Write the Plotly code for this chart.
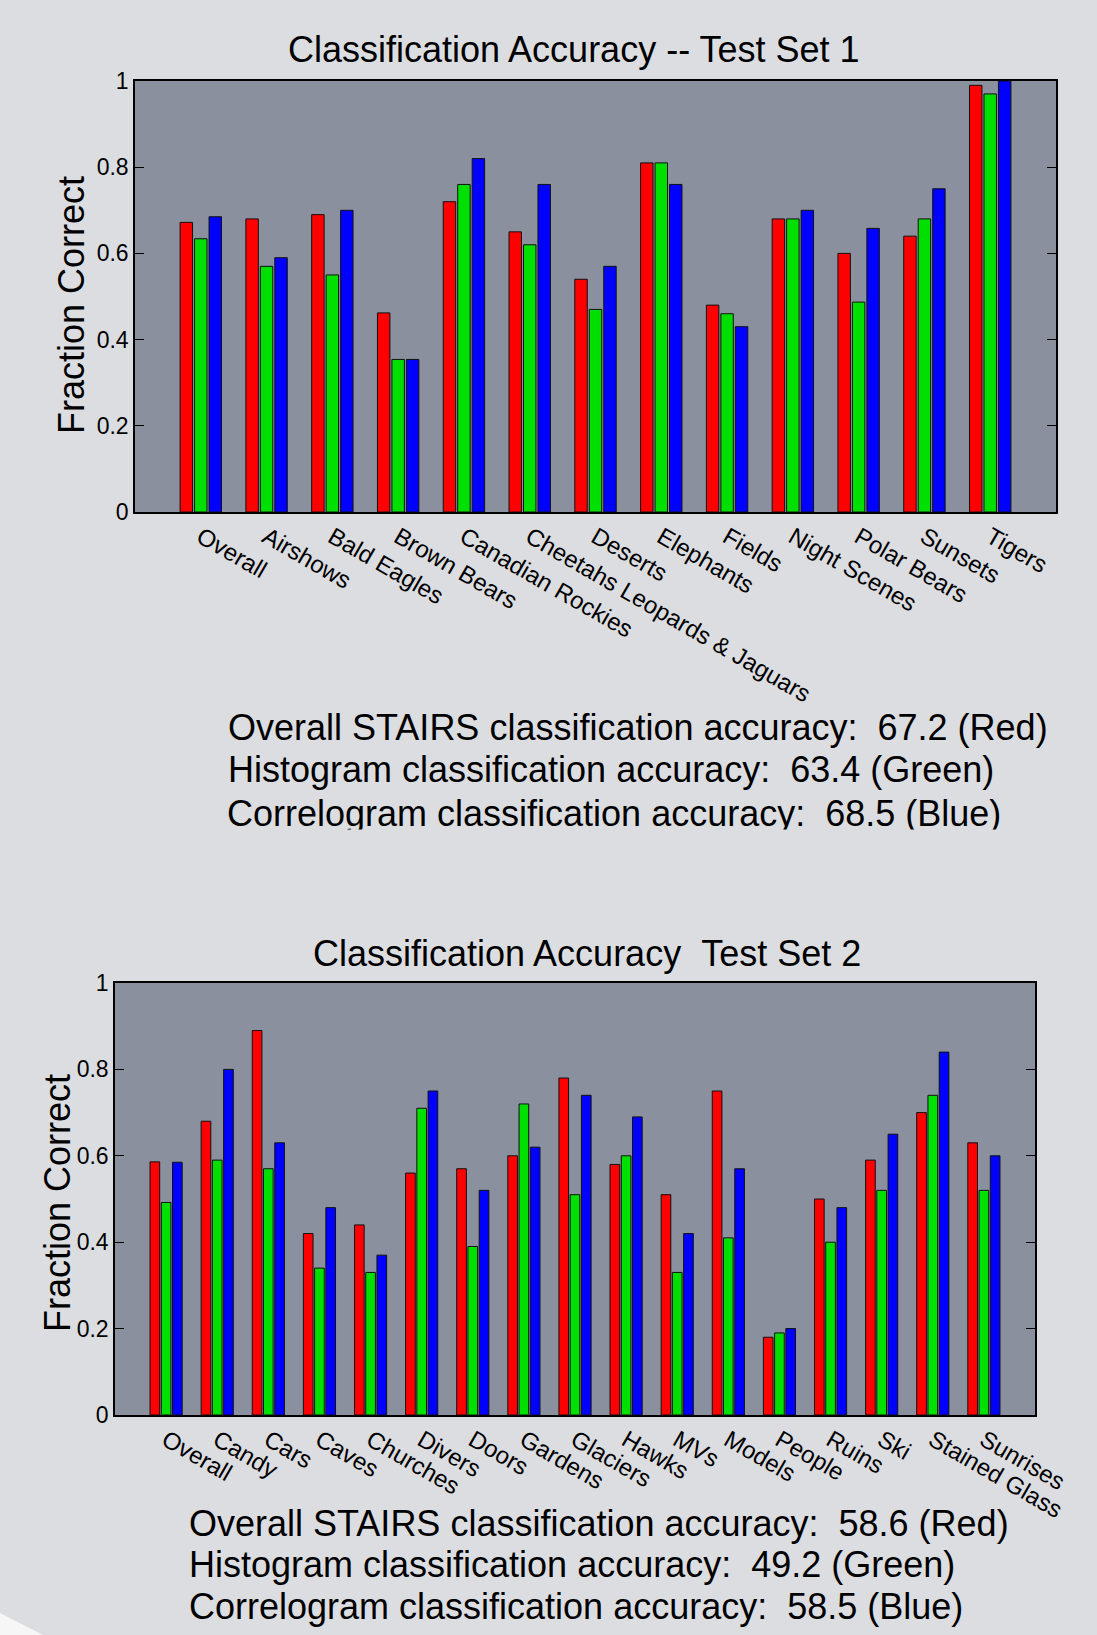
import plotly.graph_objects as go

# ---------------- data ----------------
cats1 = ["Overall", "Airshows", "Bald Eagles", "Brown Bears", "Canadian Rockies",
         "Cheetahs Leopards & Jaguars", "Deserts", "Elephants", "Fields",
         "Night Scenes", "Polar Bears", "Sunsets", "Tigers"]
stairs1 = [0.672, 0.68, 0.69, 0.462, 0.72, 0.65, 0.54, 0.81, 0.48, 0.68, 0.60, 0.64, 0.99]
hist1 = [0.634, 0.57, 0.55, 0.354, 0.76, 0.62, 0.47, 0.81, 0.46, 0.68, 0.487, 0.68, 0.97]
corr1 = [0.685, 0.59, 0.70, 0.354, 0.82, 0.76, 0.57, 0.76, 0.43, 0.70, 0.658, 0.75, 1.00]

cats2 = ["Overall", "Candy", "Cars", "Caves", "Churches", "Divers", "Doors", "Gardens",
         "Glaciers", "Hawks", "MVs", "Models", "People", "Ruins", "Ski",
         "Stained Glass", "Sunrises"]
stairs2 = [0.586, 0.68, 0.89, 0.42, 0.44, 0.56, 0.57, 0.60, 0.78, 0.58, 0.51, 0.75, 0.18, 0.50, 0.59, 0.70, 0.63]
hist2 = [0.492, 0.59, 0.57, 0.34, 0.33, 0.71, 0.39, 0.72, 0.51, 0.60, 0.33, 0.41, 0.19, 0.40, 0.52, 0.74, 0.52]
corr2 = [0.585, 0.80, 0.63, 0.48, 0.37, 0.75, 0.52, 0.62, 0.74, 0.69, 0.42, 0.57, 0.20, 0.48, 0.65, 0.84, 0.60]

ytick_vals = [0, 0.2, 0.4, 0.6, 0.8, 1]
ytick_text = ["0", "0.2", "0.4", "0.6", "0.8", "1"]

title1 = "Classification Accuracy -- Test Set 1"
title2 = "Classification Accuracy\u00a0\u00a0Test Set 2"
summary1 = ["Overall STAIRS classification accuracy:\u00a0\u00a067.2 (Red)",
            "Histogram classification accuracy:\u00a0\u00a063.4 (Green)",
            "Correlogram classification accuracy:\u00a0\u00a068.5 (Blue)"]
summary2 = ["Overall STAIRS classification accuracy:\u00a0\u00a058.6 (Red)",
            "Histogram classification accuracy:\u00a0\u00a049.2 (Green)",
            "Correlogram classification accuracy:\u00a0\u00a058.5 (Blue)"]

# ---------------- styling ----------------
W, H = 1097, 1635
FONT = "Liberation Sans, Arial, Helvetica, sans-serif"
colors = ["#ff0000", "#00e000", "#0000ff"]
PAPER = "#dcdde0"
PLOTBG = "#8a909d"


def px(x):
    return x / W


def py(y):
    return 1 - y / H


fig = go.Figure()
for vals, c in zip([stairs1, hist1, corr1], colors):
    fig.add_trace(go.Bar(x=cats1, y=vals, marker=dict(color=c, line=dict(color="#111111", width=1)),
                         xaxis="x", yaxis="y", showlegend=False, hoverinfo="x+y"))
for vals, c in zip([stairs2, hist2, corr2], colors):
    fig.add_trace(go.Bar(x=cats2, y=vals, marker=dict(color=c, line=dict(color="#111111", width=1)),
                         xaxis="x2", yaxis="y2", showlegend=False, hoverinfo="x+y"))

xcommon = dict(type="category", showline=True, mirror=True, linecolor="black", linewidth=1.5,
               ticks="", tickangle=30, tickfont=dict(size=24, color="black", family=FONT),
               showgrid=False, zeroline=False, fixedrange=True, automargin=False)
ycommon = dict(range=[0, 1], tickvals=ytick_vals, ticktext=ytick_text, ticks="inside", ticklen=9,
               tickcolor="black", tickwidth=1.2, showline=True, mirror="ticks", linecolor="black",
               linewidth=1.5, showgrid=False, zeroline=False, automargin=False,
               tickfont=dict(size=23, color="black", family=FONT), fixedrange=True)

fig.update_layout(
    template="none",
    width=W, height=H, autosize=False,
    margin=dict(l=0, r=0, t=0, b=0, autoexpand=False),
    paper_bgcolor=PAPER, plot_bgcolor=PLOTBG,
    barmode="group", bargap=0.34, bargroupgap=0.14,
    font=dict(family=FONT, color="black"),
    xaxis=dict(domain=[px(135), px(1056)], anchor="y", range=[-1, len(cats1)], **xcommon),
    yaxis=dict(domain=[py(512), py(81)], anchor="x", **ycommon),
    xaxis2=dict(domain=[px(115), px(1035)], anchor="y2", range=[-1, len(cats2)], **xcommon),
    yaxis2=dict(domain=[py(1415), py(983)], anchor="x2", **ycommon),
)

ann = []
ann.append(dict(text=title1, x=px(574), y=py(50), xref="paper", yref="paper", showarrow=False,
                xanchor="center", yanchor="middle", font=dict(size=36, family=FONT, color="black")))
ann.append(dict(text=title2, x=px(587), y=py(953), xref="paper", yref="paper", showarrow=False,
                xanchor="center", yanchor="middle", font=dict(size=36, family=FONT, color="black")))
ann.append(dict(text="Fraction Correct", x=px(71), y=py(305), xref="paper", yref="paper",
                showarrow=False, textangle=-90, xanchor="center", yanchor="middle",
                font=dict(size=36, family=FONT, color="black")))
ann.append(dict(text="Fraction Correct", x=px(57), y=py(1203), xref="paper", yref="paper",
                showarrow=False, textangle=-90, xanchor="center", yanchor="middle",
                font=dict(size=36, family=FONT, color="black")))
for i, line in enumerate(summary1[:2]):
    ann.append(dict(text=line, x=px(226), y=py(727 + 42.3 * i), xref="paper", yref="paper",
                    showarrow=False, xanchor="left", yanchor="middle",
                    font=dict(size=36, family=FONT, color="black")))
# third line of the first block is cut off at the bottom in the original
ann.append(dict(text=summary1[2], x=px(226), y=py(791.5), xref="paper", yref="paper",
                showarrow=False, xanchor="left", yanchor="top", valign="top",
                height=36.5, borderpad=0,
                font=dict(size=36, family=FONT, color="black")))
for i, line in enumerate(summary2):
    ann.append(dict(text=line, x=px(187), y=py(1523 + 41.5 * i), xref="paper", yref="paper",
                    showarrow=False, xanchor="left", yanchor="middle",
                    font=dict(size=36, family=FONT, color="black")))
fig.update_layout(annotations=ann)

fig.update_layout(shapes=[dict(type="path", xref="paper", yref="paper",
                               path=f"M 0 {py(1613)} L {px(43)} 0 L 0 0 Z",
                               fillcolor="#f6f6f6", line=dict(width=0), layer="below")])

fig.write_html("out.html", config={"displayModeBar": False},
               post_script="document.body.style.margin='0px';document.body.style.overflow='hidden';")
